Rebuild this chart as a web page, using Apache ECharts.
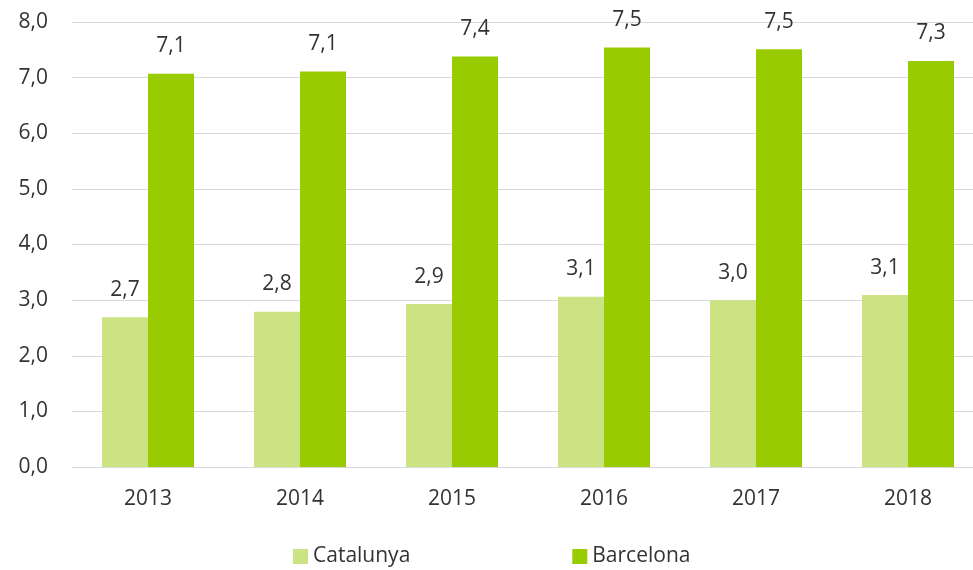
<!DOCTYPE html>
<html><head><meta charset="utf-8">
<script src="https://cdn.jsdelivr.net/npm/echarts@6/dist/echarts.min.js"></script>
<style>html,body{margin:0;padding:0;background:#fff;overflow:hidden}#c{width:990px;height:570px}</style>
</head><body><div id="c"></div>
<script>
const categories = ['2013','2014','2015','2016','2017','2018'];
const catalunya = [2.69, 2.79, 2.93, 3.06, 3.00, 3.09];
const barcelona = [7.07, 7.11, 7.38, 7.54, 7.51, 7.30];
const yTicks = [0,1,2,3,4,5,6,7,8];

const fmt = v => (Math.round(v * 10) / 10).toFixed(1).replace('.', ',');
const font = 'Open Sans';
const txt = '#333333';
const chart = echarts.init(document.getElementById('c'));
const labelCfg = {show:true, position:'top', distance:17, color:txt, fontFamily:font, fontSize:21,
  formatter: p => fmt(p.value)};
chart.setOption({
  animation:false,
  grid:{left:72, right:6, top:22, height:445, containLabel:false},
  legend:{top:541, left:288, itemWidth:15, itemHeight:15, itemGap:162, icon:'rect',
    textStyle:{color:txt, fontFamily:font, fontSize:21},
    data:['Catalunya','Barcelona']},
  xAxis:{type:'category', data:categories,
    axisLine:{lineStyle:{color:'#d9d9d9', width:1}}, axisTick:{show:false},
    axisLabel:{color:txt, fontFamily:font, fontSize:21, margin:22}},
  yAxis:{type:'value', min:yTicks[0], max:yTicks[yTicks.length-1], interval:1,
    axisLine:{show:false}, axisTick:{show:false},
    splitLine:{lineStyle:{color:'#d9d9d9', width:1}},
    axisLabel:{color:txt, fontFamily:font, fontSize:21, margin:24, formatter: v => fmt(v)}},
  series:[
    {name:'Catalunya', type:'bar', data:catalunya, barWidth:46, barGap:'0%',
     itemStyle:{color:'#cce384'}, label:labelCfg},
    {name:'Barcelona', type:'bar', data:barcelona, barWidth:46, barGap:'0%',
     itemStyle:{color:'#99cc00'}, label:labelCfg}
  ]
});
</script></body></html>
